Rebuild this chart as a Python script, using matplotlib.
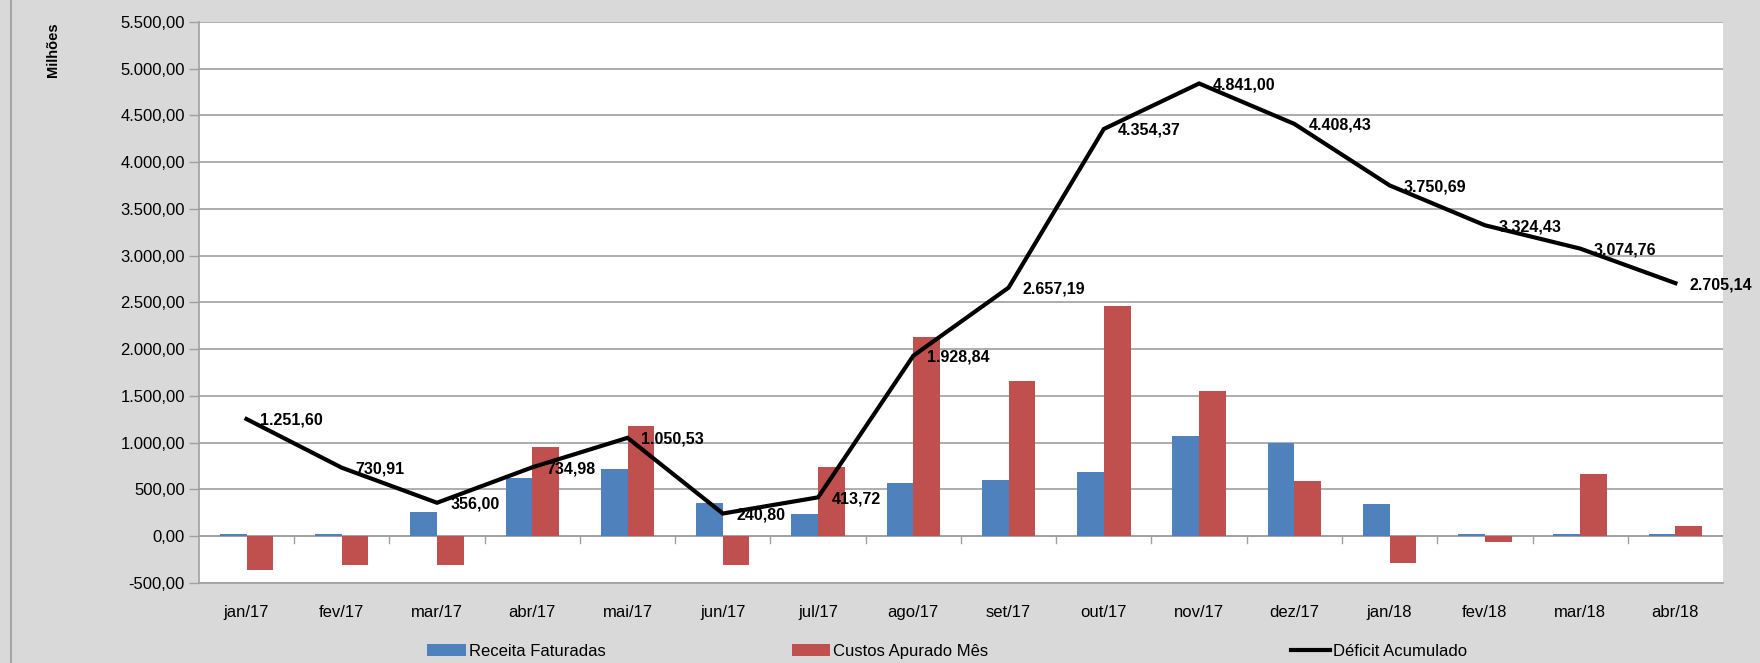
import numpy as np
import matplotlib
matplotlib.use("Agg")
import matplotlib.pyplot as plt
from matplotlib.ticker import FuncFormatter

plt.rcParams['font.family'] = ['Liberation Sans Narrow', 'Liberation Sans', 'DejaVu Sans']

# dados (milhões)
meses = ["jan/17", "fev/17", "mar/17", "abr/17", "mai/17", "jun/17", "jul/17", "ago/17",
         "set/17", "out/17", "nov/17", "dez/17", "jan/18", "fev/18", "mar/18", "abr/18"]
receita = [20, 20, 255, 620, 720, 350, 235, 570, 600, 690, 1070, 990, 340, 20, 20, 20]
custos = [-360, -310, -310, 950, 1180, -310, 740, 2130, 1660, 2460, 1550, 590, -290, -60, 660, 105]
deficit = [1251.60, 730.91, 356.00, 734.98, 1050.53, 240.80, 413.72, 1928.84,
           2657.19, 4354.37, 4841.00, 4408.43, 3750.69, 3324.43, 3074.76, 2705.14]
y_ticks = np.arange(-500, 5501, 500)

AZUL = '#4F81BD'
VERMELHO = '#C0504D'
CINZA = '#A0A0A0'


def br(v, decimais=2):
    """Formato brasileiro: 1.234,56"""
    s = f"{v:,.{decimais}f}"
    return s.replace(",", "X").replace(".", ",").replace("X", ".")


fig = plt.figure(figsize=(17.6, 6.63), dpi=100, facecolor='#D9D9D9')
ax = fig.add_axes([0.113, 0.121, 0.866, 0.846])
ax.set_facecolor('white')

x = np.arange(len(meses))
w = 0.28
b1 = ax.bar(x - w / 2, receita, width=w, color=AZUL, zorder=3, label='Receita Faturadas')
b2 = ax.bar(x + w / 2, custos, width=w, color=VERMELHO, zorder=3, label='Custos Apurado Mês')
ln, = ax.plot(x, deficit, color='black', lw=3, zorder=4, label='Déficit Acumulado',
              solid_joinstyle='miter')

# rótulos da linha
for xi, v in zip(x, deficit):
    ax.annotate(br(v), (xi, v), xytext=(10, -1), textcoords='offset points',
                ha='left', va='center', fontsize=11.5, fontweight='bold', zorder=5)

# eixos
ax.set_xlim(-0.5, len(meses) - 0.5)
ax.set_ylim(-500, 5500)
ax.set_yticks(y_ticks)
ax.yaxis.set_major_formatter(FuncFormatter(lambda v, p: br(v)))
ax.grid(axis='y', color=CINZA, lw=1.2, zorder=0)
ax.set_axisbelow(True)
ax.tick_params(axis='y', length=7, width=1, color=CINZA, labelsize=12, pad=3)
ax.set_xticks(x)
ax.set_xticklabels(meses)
ax.tick_params(axis='x', length=0, labelsize=12, pad=16)

for s in ['top', 'right']:
    ax.spines[s].set_visible(False)
for s in ['left', 'bottom']:
    ax.spines[s].set_color(CINZA)
    ax.spines[s].set_linewidth(1.2)

# eixo horizontal em zero com marcas entre categorias
ax.axhline(0, color=CINZA, lw=1.2, zorder=2)
for xb in np.arange(0.5, len(meses), 1.0):
    ax.plot([xb, xb], [0, -70], color=CINZA, lw=1, zorder=2)

fig.text(0.030, 0.925, 'Milhões', rotation=90, ha='center', va='center',
         fontsize=10.5, fontweight='bold')

# borda externa à esquerda
fig.add_artist(plt.Line2D([0.0065, 0.0065], [0, 1], transform=fig.transFigure,
                          color='#A6A6A6', lw=1.5))

# legenda (três entradas espaçadas como no Excel)
pos = [0.238, 0.445, 0.729]
for h, xp in zip([b1, b2, ln], pos):
    fig.legend(handles=[h], loc='center left', bbox_to_anchor=(xp, 0.018), frameon=False,
               fontsize=12, handlelength=2.3, handletextpad=0.2, borderpad=0)

fig.savefig('out.png', dpi=100, facecolor=fig.get_facecolor())
